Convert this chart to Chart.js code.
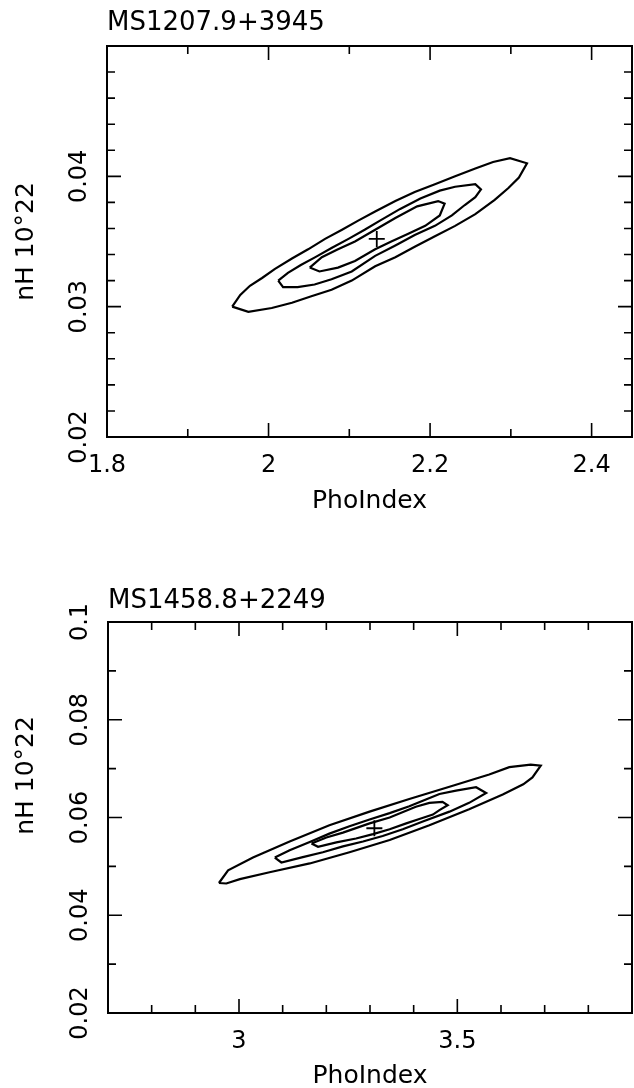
<!DOCTYPE html>
<html>
<head>
<meta charset="utf-8">
<script src="https://cdn.jsdelivr.net/npm/chart.js@4.4.1/dist/chart.umd.min.js"></script>
<style>
html, body { margin: 0; padding: 0; background: #fff; overflow: hidden; }
canvas { position: absolute; left: 0; }
#panelTop { top: 0; }
#panelBottom { top: 520px; }
</style>
</head>
<body>
<canvas id="panelTop" width="634" height="520"></canvas>
<canvas id="panelBottom" width="634" height="568"></canvas>
<script>
"use strict";

// ---- MS1207.9+3945 ----
const title1 = "MS1207.9+3945";
const xTicks1 = [1.8, 2, 2.2, 2.4];
const xLabels1 = ["1.8", "2", "2.2", "2.4"];
const xMajor1 = [2, 2.2, 2.4];
const xMinor1 = [1.9, 2.1, 2.3];
const yTicks1 = [0.02, 0.03, 0.04];
const yLabels1 = ["0.02", "0.03", "0.04"];
const yMajor1 = [0.03, 0.04];
const yMinor1 = [0.022, 0.024, 0.026, 0.028, 0.032, 0.034, 0.036, 0.038, 0.042, 0.044, 0.046, 0.048];
const best1 = [2.134, 0.0352];
const outer1 = [
  [1.955, 0.0300], [1.965, 0.0309], [1.977, 0.0316], [1.992, 0.0322], [2.008, 0.0329],
  [2.029, 0.0337], [2.049, 0.0344], [2.070, 0.0352], [2.091, 0.0359], [2.111, 0.0366],
  [2.132, 0.0373], [2.157, 0.0381], [2.181, 0.0388], [2.206, 0.0394], [2.231, 0.0400],
  [2.256, 0.0406], [2.278, 0.0411], [2.299, 0.0414], [2.320, 0.0410], [2.310, 0.0399],
  [2.297, 0.0391], [2.280, 0.0382], [2.256, 0.0371], [2.231, 0.0362], [2.206, 0.0354],
  [2.181, 0.0346], [2.157, 0.0338], [2.132, 0.0331], [2.103, 0.0320], [2.078, 0.0313],
  [2.053, 0.0308], [2.029, 0.0303], [2.004, 0.0299], [1.975, 0.0296], [1.955, 0.0300]
];
const middle1 = [
  [2.012, 0.0320], [2.024, 0.0326], [2.040, 0.0332], [2.058, 0.0338], [2.078, 0.0345],
  [2.099, 0.0352], [2.119, 0.0359], [2.138, 0.0366], [2.163, 0.0375], [2.188, 0.0383],
  [2.212, 0.0389], [2.231, 0.0392], [2.256, 0.0394], [2.263, 0.0390], [2.256, 0.0384],
  [2.243, 0.0378], [2.227, 0.0370], [2.206, 0.0362], [2.181, 0.0355], [2.157, 0.0347],
  [2.132, 0.0339], [2.103, 0.0327], [2.078, 0.0321], [2.057, 0.0317], [2.036, 0.0315],
  [2.018, 0.0315], [2.012, 0.0320]
];
const inner1 = [
  [2.051, 0.0330], [2.066, 0.0338], [2.086, 0.0344], [2.107, 0.0350], [2.132, 0.0359],
  [2.157, 0.0368], [2.184, 0.0377], [2.210, 0.0381], [2.218, 0.0379], [2.212, 0.0370],
  [2.194, 0.0362], [2.173, 0.0356], [2.152, 0.0350], [2.132, 0.0344], [2.107, 0.0335],
  [2.086, 0.0330], [2.063, 0.0327], [2.051, 0.0330]
];

// ---- MS1458.8+2249 ----
const title2 = "MS1458.8+2249";
const xTicks2 = [3, 3.5];
const xLabels2 = ["3", "3.5"];
const xMajor2 = [3, 3.5];
const xMinor2 = [2.8, 2.9, 3.1, 3.2, 3.3, 3.4, 3.6, 3.7, 3.8];
const yTicks2 = [0.02, 0.04, 0.06, 0.08, 0.1];
const yLabels2 = ["0.02", "0.04", "0.06", "0.08", "0.1"];
const yMajor2 = [0.04, 0.06, 0.08];
const yMinor2 = [0.03, 0.05, 0.07, 0.09];
const best2 = [3.31, 0.0578];
const outer2 = [
  [2.954, 0.0466], [2.975, 0.0492], [3.032, 0.0518], [3.116, 0.0551], [3.207, 0.0584],
  [3.299, 0.0612], [3.390, 0.0638], [3.482, 0.0663], [3.573, 0.0688], [3.619, 0.0703],
  [3.668, 0.0708], [3.691, 0.0706], [3.672, 0.0682], [3.651, 0.0668], [3.604, 0.0647],
  [3.527, 0.0617], [3.436, 0.0584], [3.345, 0.0554], [3.253, 0.0529], [3.162, 0.0506],
  [3.070, 0.0488], [3.002, 0.0474], [2.971, 0.0465], [2.954, 0.0466]
];
const middle2 = [
  [3.082, 0.0518], [3.116, 0.0533], [3.162, 0.0550], [3.207, 0.0567], [3.253, 0.0582],
  [3.299, 0.0596], [3.345, 0.0609], [3.390, 0.0623], [3.428, 0.0637], [3.459, 0.0648],
  [3.497, 0.0655], [3.543, 0.0662], [3.566, 0.0650], [3.527, 0.0630], [3.482, 0.0612],
  [3.421, 0.0592], [3.375, 0.0576], [3.329, 0.0562], [3.284, 0.0551], [3.238, 0.0541],
  [3.192, 0.0529], [3.146, 0.0519], [3.097, 0.0508], [3.082, 0.0518]
];
const inner2 = [
  [3.166, 0.0547], [3.200, 0.0559], [3.238, 0.0569], [3.299, 0.0588], [3.345, 0.0600],
  [3.405, 0.0622], [3.436, 0.0630], [3.466, 0.0632], [3.478, 0.0625], [3.459, 0.0615],
  [3.444, 0.0606], [3.413, 0.0597], [3.383, 0.0588], [3.345, 0.0576], [3.307, 0.0566],
  [3.268, 0.0557], [3.223, 0.0549], [3.181, 0.0540], [3.166, 0.0547]
];

const FONT = "'DejaVu Sans', 'Liberation Sans', sans-serif";
Chart.defaults.color = "#000";
Chart.defaults.font.family = FONT;

// box round the plot area with inward ticks on all four sides
const frameTicks = {
  id: "frameTicks",
  afterDatasetsDraw(chart, args, opts) {
    const ctx = chart.ctx;
    const a = chart.chartArea;
    const xs = chart.scales.x;
    const ys = chart.scales.y;
    ctx.save();
    ctx.strokeStyle = "#000";
    ctx.lineWidth = 1.6;
    ctx.beginPath();
    function xTick(v, len) {
      const p = xs.getPixelForValue(v);
      ctx.moveTo(p, a.bottom); ctx.lineTo(p, a.bottom - len);
      ctx.moveTo(p, a.top); ctx.lineTo(p, a.top + len);
    }
    function yTick(v, len) {
      const p = ys.getPixelForValue(v);
      ctx.moveTo(a.left, p); ctx.lineTo(a.left + len, p);
      ctx.moveTo(a.right, p); ctx.lineTo(a.right - len, p);
    }
    opts.xMajor.forEach(v => xTick(v, opts.major));
    opts.xMinor.forEach(v => xTick(v, opts.minor));
    opts.yMajor.forEach(v => yTick(v, opts.major));
    opts.yMinor.forEach(v => yTick(v, opts.minor));
    ctx.stroke();
    ctx.lineWidth = 2;
    ctx.strokeRect(a.left, a.top, a.right - a.left, a.bottom - a.top);
    ctx.restore();
  }
};

// rotated y axis label, drawn beside the plot
const sideLabel = {
  id: "sideLabel",
  afterDraw(chart, args, opts) {
    const a = chart.chartArea;
    const ctx = chart.ctx;
    ctx.save();
    ctx.translate(opts.x, (a.top + a.bottom) / 2 + opts.shift);
    ctx.rotate(-Math.PI / 2);
    ctx.font = "25px " + FONT;
    ctx.fillStyle = "#000";
    ctx.textAlign = "center";
    ctx.textBaseline = "middle";
    ctx.fillText(opts.text, 0, 0);
    ctx.restore();
  }
};

function toPoints(list) {
  return list.map(p => ({ x: p[0], y: p[1] }));
}

function contour(list) {
  return {
    data: toPoints(list),
    showLine: true,
    borderColor: "#000",
    borderWidth: 2.2,
    pointRadius: 0,
    fill: false,
    tension: 0
  };
}

function makePanel(canvasId, cfg) {
  return new Chart(document.getElementById(canvasId), {
    type: "scatter",
    data: {
      datasets: [
        contour(cfg.outer),
        contour(cfg.middle),
        contour(cfg.inner),
        {
          data: toPoints([cfg.best]),
          pointStyle: "cross",
          pointRadius: 8,
          borderWidth: 1.8,
          borderColor: "#000",
          showLine: false
        }
      ]
    },
    options: {
      responsive: false,
      animation: false,
      devicePixelRatio: 1,
      layout: { autoPadding: false, padding: { left: 0, right: 2, top: 0, bottom: 0 } },
      plugins: {
        legend: { display: false },
        tooltip: { enabled: false },
        title: {
          display: true,
          text: cfg.title,
          align: "start",
          fullSize: false,
          color: "#000",
          font: { family: FONT, size: 26, weight: "normal", lineHeight: 1.2 },
          padding: cfg.titlePad
        },
        frameTicks: {
          xMajor: cfg.xMajor, xMinor: cfg.xMinor,
          yMajor: cfg.yMajor, yMinor: cfg.yMinor,
          major: 14, minor: 8
        },
        sideLabel: { text: "nH 10°22", x: 26, shift: cfg.labelShift }
      },
      scales: {
        x: {
          type: "linear",
          min: cfg.xRange[0],
          max: cfg.xRange[1],
          afterBuildTicks: s => { s.ticks = cfg.xTicks.map(v => ({ value: v })); },
          afterFit: s => { s.height = cfg.xHeight; },
          ticks: {
            callback: (v, i) => cfg.xLabels[i],
            font: { size: 24 },
            padding: 14,
            maxRotation: 0,
            autoSkip: false
          },
          grid: { display: false, drawTicks: false },
          border: { display: false },
          title: {
            display: true,
            text: "PhoIndex",
            font: { size: 25, lineHeight: cfg.xTitleLine },
            padding: { top: 0, bottom: cfg.xTitlePad }
          }
        },
        y: {
          type: "linear",
          min: cfg.yRange[0],
          max: cfg.yRange[1],
          afterBuildTicks: s => { s.ticks = cfg.yTicks.map(v => ({ value: v })); },
          afterFit: s => { s.width = cfg.yWidth; },
          ticks: {
            callback: (v, i) => cfg.yLabels[i],
            font: { size: 24 },
            minRotation: 90,
            maxRotation: 90,
            crossAlign: "center",
            padding: 1
          },
          grid: { display: false, drawTicks: false },
          border: { display: false }
        }
      }
    },
    plugins: [frameTicks, sideLabel]
  });
}

makePanel("panelTop", {
  title: title1,
  titlePad: { top: 7.4, bottom: 7.4 },
  xRange: [1.8, 2.45], yRange: [0.02, 0.05],
  xTicks: xTicks1, xLabels: xLabels1, xMajor: xMajor1, xMinor: xMinor1,
  yTicks: yTicks1, yLabels: yLabels1, yMajor: yMajor1, yMinor: yMinor1,
  xHeight: 83, yWidth: 107, xTitlePad: 6, xTitleLine: 1, labelShift: 0,
  outer: outer1, middle: middle1, inner: inner1, best: best1
});

makePanel("panelBottom", {
  title: title2,
  titlePad: { top: 65.4, bottom: 5.4 },
  xRange: [2.7, 3.9], yRange: [0.02, 0.1],
  xTicks: xTicks2, xLabels: xLabels2, xMajor: xMajor2, xMinor: xMinor2,
  yTicks: yTicks2, yLabels: yLabels2, yMajor: yMajor2, yMinor: yMinor2,
  xHeight: 75, yWidth: 108, xTitlePad: 0, xTitleLine: 0.9, labelShift: -42,
  outer: outer2, middle: middle2, inner: inner2, best: best2
});
</script>
</body>
</html>
